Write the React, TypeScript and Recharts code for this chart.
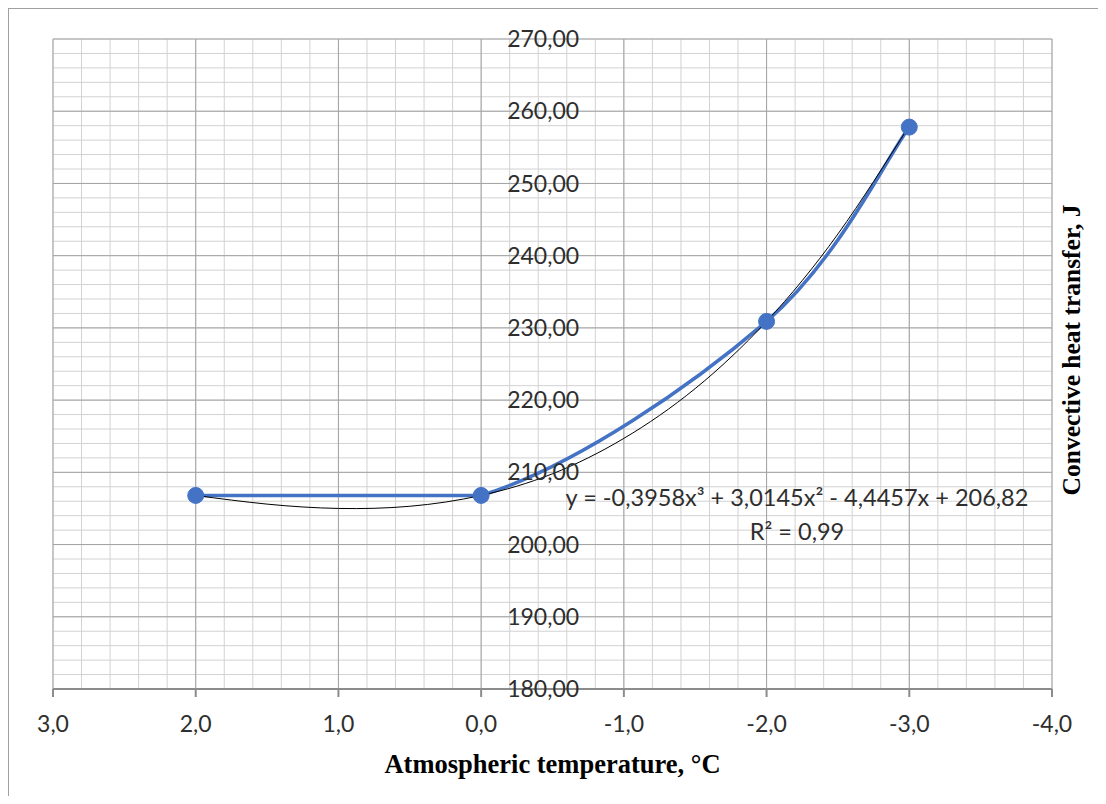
import React from 'react';
import {
  LineChart,
  Line,
  XAxis,
  YAxis,
  CartesianGrid,
  ReferenceDot,
} from 'recharts';

// measured points
const temps = [2, 0, -2, -3];
const heat = [206.8, 206.8, 230.9, 257.8];

// cubic trendline
const trendTemps = [2, 1.5, 1, 0.5, 0, -0.5, -1, -1.5, -2, -2.5, -3];
const trendHeat = [206.8, 205.6, 205.0, 205.3, 206.8, 209.8, 214.7, 221.6, 230.9, 243.0, 258.0];

const xTicks = [3, 2, 1, 0, -1, -2, -3, -4];
const yTicks = [180, 190, 200, 210, 220, 230, 240, 250, 260, 270];

const equation = 'y = -0,3958x³ + 3,0145x² - 4,4457x + 206,82';
const rSquared = 'R² = 0,99';

const measured = temps.map((x, i) => ({ x, y: heat[i] }));
const trend = trendTemps.map((x, i) => ({ x, y: trendHeat[i] }));

// minor grid every 0.2 on x and every 2 on y
const xMinor: number[] = [];
for (let i = -20; i <= 15; i++) xMinor.push(i / 5);
const yMinor: number[] = [];
for (let v = 180; v <= 270; v += 2) yMinor.push(v);

const comma = (v: number, digits: number) => v.toFixed(digits).replace('.', ',');

const BLUE = '#4472C4';
const TEXT = '#2e2e2e';
const SANS = 'Lato, "Open Sans", sans-serif';
const SERIF = '"Liberation Serif", "Times New Roman", serif';

// Excel-like smoothing: cardinal bezier, control points kept inside each segment's y range
function excelSmooth(context: any) {
  let pts: number[][] = [];
  return {
    areaStart() {},
    areaEnd() {},
    lineStart() {
      pts = [];
    },
    point(x: number, y: number) {
      pts.push([+x, +y]);
    },
    lineEnd() {
      const n = pts.length;
      if (!n) return;
      context.moveTo(pts[0][0], pts[0][1]);
      for (let i = 0; i < n - 1; i++) {
        const p0 = pts[Math.max(i - 1, 0)];
        const p1 = pts[i];
        const p2 = pts[i + 1];
        const p3 = pts[Math.min(i + 2, n - 1)];
        const lo = Math.min(p1[1], p2[1]);
        const hi = Math.max(p1[1], p2[1]);
        const clamp = (v: number) => Math.min(hi, Math.max(lo, v));
        context.bezierCurveTo(
          p1[0] + (p2[0] - p0[0]) / 6,
          clamp(p1[1] + (p2[1] - p0[1]) / 6),
          p2[0] - (p3[0] - p1[0]) / 6,
          clamp(p2[1] - (p3[1] - p1[1]) / 6),
          p2[0],
          p2[1],
        );
      }
    },
  };
}

function YTitle(props: any) {
  const { x, y, width, height } = props.viewBox;
  const cx = x + width / 2 + 1;
  const cy = y + height / 2 - 14;
  return (
    <text
      x={cx}
      y={cy}
      transform={`rotate(-90 ${cx} ${cy})`}
      textAnchor="middle"
      dominantBaseline="central"
      fontFamily={SERIF}
      fontWeight="bold"
      fontSize={25.5}
      fill="#000"
    >
      Convective heat transfer, J
    </text>
  );
}

// the value labels sit on the x = 0 line, so the axis itself draws no text
const NoTick = () => <g />;

export default function App() {
  return (
    <div
      style={{
        position: 'relative',
        width: 1089,
        height: 787,
        borderTop: '1px solid #a0a0a0',
        borderLeft: '1px solid #a0a0a0',
        background: '#fff',
      }}
    >
      <LineChart width={1089} height={787} margin={{ top: 30, right: 10, left: 44, bottom: 0 }}>
        <CartesianGrid verticalValues={xMinor} horizontalValues={yMinor} stroke="#d2d2d2" strokeWidth={1} />
        <CartesianGrid verticalValues={xTicks} horizontalValues={yTicks} stroke="#a3a3a3" strokeWidth={1} />
        <XAxis
          type="number"
          dataKey="x"
          domain={[-4, 3]}
          reversed
          ticks={xTicks}
          interval={0}
          tickFormatter={(v: number) => comma(v, 1)}
          height={107}
          tickSize={8}
          tickMargin={19}
          stroke="#8c8c8c"
          strokeWidth={2}
          tick={{ fill: TEXT, fontSize: 23, fontFamily: SANS }}
          label={{
            value: 'Atmospheric temperature, °C',
            position: 'insideBottom',
            offset: 23,
            style: { fontFamily: SERIF, fontWeight: 'bold', fontSize: 26.5, fill: '#000' },
          }}
        />
        <YAxis
          type="number"
          orientation="right"
          domain={[180, 270]}
          ticks={yTicks}
          interval={0}
          tick={NoTick}
          tickLine={false}
          axisLine={false}
          width={36}
          label={{ content: YTitle }}
        />
        {yTicks.map((v) => (
          <ReferenceDot
            key={v}
            x={0}
            y={v}
            r={0}
            fill="none"
            stroke="none"
            label={{
              value: comma(v, 2),
              position: 'right',
              offset: 26,
              fill: TEXT,
              fontSize: 23,
              fontFamily: SANS,
            }}
          />
        ))}
        <Line
          data={measured}
          dataKey="y"
          type={excelSmooth as any}
          stroke={BLUE}
          strokeWidth={3.5}
          dot={{ r: 8, fill: BLUE, stroke: BLUE, strokeWidth: 1 }}
          activeDot={false}
          isAnimationActive={false}
        />
        <Line
          data={trend}
          dataKey="y"
          type="natural"
          stroke="#000"
          strokeWidth={1}
          dot={false}
          activeDot={false}
          isAnimationActive={false}
        />
      </LineChart>
      <div
        style={{
          position: 'absolute',
          left: 488,
          top: 475,
          width: 600,
          textAlign: 'center',
          fontFamily: SANS,
          fontSize: 23.5,
          lineHeight: '26px',
          color: TEXT,
          whiteSpace: 'nowrap',
        }}
      >
        <div>{equation}</div>
        <div style={{ marginTop: 8 }}>{rSquared}</div>
      </div>
    </div>
  );
}
